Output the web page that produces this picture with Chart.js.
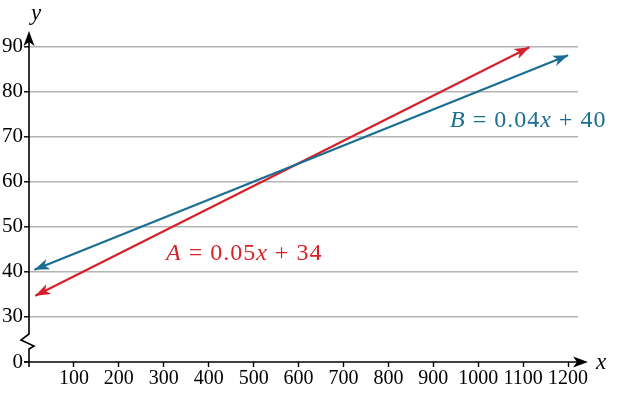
<!DOCTYPE html>
<html>
<head>
<meta charset="utf-8">
<script src="https://cdn.jsdelivr.net/npm/chart.js@4"></script>
<style>
  html, body { margin: 0; padding: 0; background: #fff; }
  canvas { display: block; }
</style>
</head>
<body>
<canvas id="chart" width="630" height="393"></canvas>
<script>
// --- data ---
const xTicks = [100, 200, 300, 400, 500, 600, 700, 800, 900, 1000, 1100, 1200];
// the slot at 20 sits below the axis break and is labelled "0"
const yTicks = [20, 30, 40, 50, 60, 70, 80, 90];
const yTickLabels = ["0", "30", "40", "50", "60", "70", "80", "90"];

// end points of each line
const lineB = [{ x: 12, y: 40.5 }, { x: 1200, y: 88.1 }];
const lineA = [{ x: 14, y: 34.7 }, { x: 1114, y: 89.9 }];

const labelB = [["B", true], [" = 0.04", false], ["x", true], [" + 40", false]];
const labelA = [["A", true], [" = 0.05", false], ["x", true], [" + 34", false]];

const BLUE = "#1a6e92";
const RED = "#d5202a";
const SERIF = "'Liberation Serif', 'DejaVu Serif', serif";

// --- helpers ---
function arrowHead(ctx, tipX, tipY, ang, color) {
  const L = 15, W = 5.5, N = 4;
  const dx = Math.cos(ang), dy = Math.sin(ang);
  const px = -dy, py = dx;
  ctx.save();
  ctx.fillStyle = color;
  ctx.beginPath();
  ctx.moveTo(tipX, tipY);
  ctx.lineTo(tipX - L * dx + W * px, tipY - L * dy + W * py);
  ctx.lineTo(tipX - (L - N) * dx, tipY - (L - N) * dy);
  ctx.lineTo(tipX - L * dx - W * px, tipY - L * dy - W * py);
  ctx.closePath();
  ctx.fill();
  ctx.restore();
}

function drawParts(ctx, parts, x, y, size, color) {
  ctx.save();
  ctx.fillStyle = color;
  ctx.textBaseline = "alphabetic";
  ctx.textAlign = "left";
  ctx.letterSpacing = "1px";
  parts.forEach(([txt, ital]) => {
    ctx.font = (ital ? "italic " : "") + size + "px " + SERIF;
    ctx.fillText(txt, x, y);
    x += ctx.measureText(txt).width;
  });
  ctx.restore();
}

// axes, break mark, arrows and labels
const decor = {
  id: "decor",
  afterDatasetsDraw(chart) {
    const { ctx, chartArea, scales } = chart;
    const xs = scales.x, ys = scales.y;
    const ax = xs.getPixelForValue(0);
    const y0 = ys.getPixelForValue(20);

    ctx.save();
    ctx.strokeStyle = "#000";
    ctx.lineWidth = 1.6;

    // y axis with break
    ctx.beginPath();
    ctx.moveTo(ax, chartArea.top + 6);
    ctx.lineTo(ax, y0 - 28);
    ctx.lineTo(ax - 8, y0 - 22);
    ctx.lineTo(ax + 5, y0 - 16);
    ctx.lineTo(ax, y0 - 13);
    ctx.lineTo(ax, y0 + 5);
    ctx.stroke();
    arrowHead(ctx, ax, chartArea.top, -Math.PI / 2, "#000");

    // x axis
    ctx.beginPath();
    ctx.moveTo(ax - 5, y0);
    ctx.lineTo(chartArea.right + 4, y0);
    ctx.stroke();
    arrowHead(ctx, chartArea.right + 10, y0, 0, "#000");
    ctx.restore();

    // line arrowheads
    chart.data.datasets.forEach((ds, i) => {
      const pts = chart.getDatasetMeta(i).data;
      const a = pts[0], b = pts[pts.length - 1];
      const ang = Math.atan2(b.y - a.y, b.x - a.x);
      arrowHead(ctx, b.x, b.y, ang, ds.borderColor);
      arrowHead(ctx, a.x, a.y, ang + Math.PI, ds.borderColor);
    });

    // equations
    drawParts(ctx, labelB, 450, 127, 24, BLUE);
    drawParts(ctx, labelA, 166, 260, 24, RED);

    // axis titles
    ctx.save();
    ctx.fillStyle = "#000";
    ctx.font = "italic 23px " + SERIF;
    ctx.textAlign = "center";
    ctx.textBaseline = "alphabetic";
    ctx.fillText("y", 36, 20);
    ctx.fillText("x", 601, 369);
    ctx.restore();
  }
};

new Chart(document.getElementById("chart"), {
  type: "line",
  data: {
    datasets: [
      { label: "B = 0.04x + 40", data: lineB, borderColor: BLUE, borderWidth: 2.2, pointRadius: 0, clip: false },
      { label: "A = 0.05x + 34", data: lineA, borderColor: RED, borderWidth: 2.2, pointRadius: 0, clip: false }
    ]
  },
  options: {
    responsive: false,
    animation: false,
    layout: { padding: { top: 31, right: 52, left: 0, bottom: 0 } },
    plugins: { legend: { display: false }, tooltip: { enabled: false } },
    scales: {
      x: {
        type: "linear",
        min: 0,
        max: 1222,
        afterBuildTicks: s => { s.ticks = xTicks.map(v => ({ value: v })); },
        afterFit: s => { s.height = 31; },
        border: { display: false },
        grid: { drawOnChartArea: false, tickLength: 5, tickColor: "#000", tickWidth: 1.4 },
        ticks: {
          padding: 0, color: "#000", font: { family: SERIF, size: 20 },
          maxRotation: 0, autoSkip: false, callback: v => String(v)
        }
      },
      y: {
        type: "linear",
        min: 20,
        max: 93.5,
        afterBuildTicks: s => { s.ticks = yTicks.map(v => ({ value: v })); },
        afterFit: s => { s.width = 29; },
        border: { display: false },
        grid: {
          color: c => (c.tick && c.tick.value === 20 ? "rgba(0,0,0,0)" : "#b4b4b4"),
          lineWidth: 1.6,
          tickLength: 5,
          tickColor: "#000",
          tickWidth: 1.4
        },
        ticks: {
          padding: 1, color: "#000", font: { family: SERIF, size: 21 }, autoSkip: false,
          callback: v => yTickLabels[yTicks.indexOf(v)]
        }
      }
    }
  },
  plugins: [decor]
});
</script>
</body>
</html>
